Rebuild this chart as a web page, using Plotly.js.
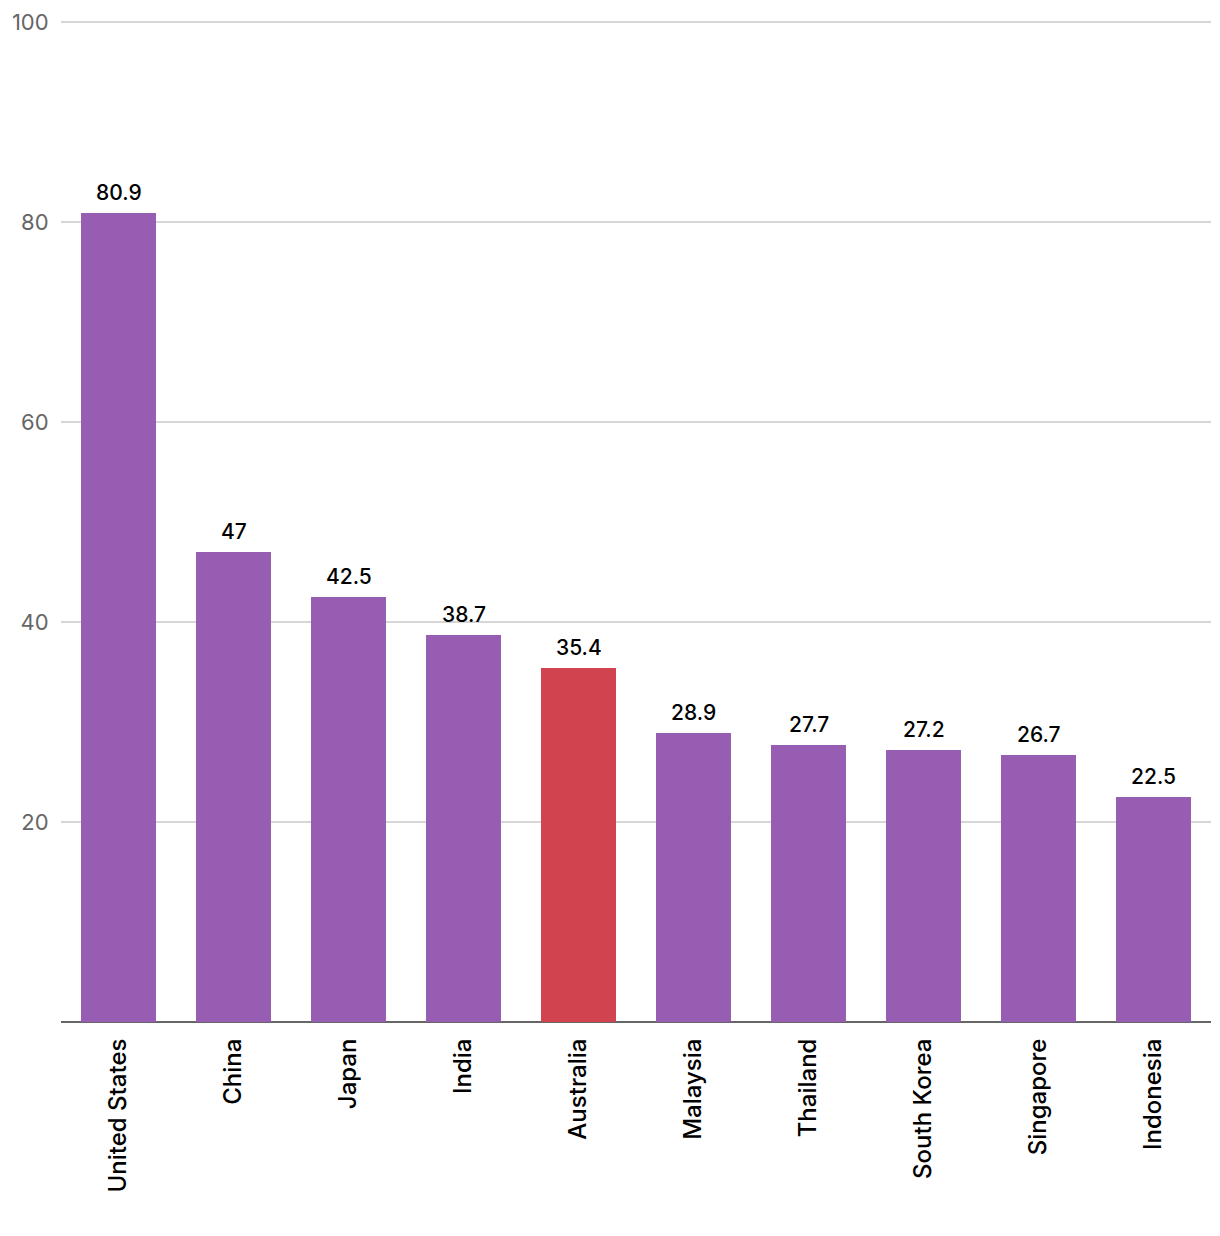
<!DOCTYPE html>
<html>
<head>
<meta charset="utf-8">
<script src="https://cdn.plot.ly/plotly-3.0.1.min.js"></script>
<style>html,body{margin:0;padding:0;background:#fff;}#chart{width:1220px;height:1236px;}</style>
</head>
<body>
<div id="chart"></div>
<script>
const countries = ["United States","China","Japan","India","Australia","Malaysia","Thailand","South Korea","Singapore","Indonesia"];
const values = [80.9,47,42.5,38.7,35.4,28.9,27.7,27.2,26.7,22.5];
const highlight = "Australia";
const tickValues = [20,40,60,80,100];

const colors = countries.map(c => c === highlight ? "#D0434F" : "#975DB2");

const trace = {
  type: "bar",
  x: countries,
  y: values,
  marker: {color: colors},
  hoverinfo: "x+y"
};

const annotations = countries.map((c, i) => ({
  x: c, y: values[i], xref: "x", yref: "y",
  text: String(values[i]),
  showarrow: false, yanchor: "bottom", yshift: 6,
  font: {family: "Inter, sans-serif", size: 21, color: "#000", weight: 500}
}));

const layout = {
  width: 1220, height: 1236,
  margin: {l: 61, r: 9, t: 18, b: 214},
  paper_bgcolor: "#fff", plot_bgcolor: "#fff",
  bargap: 0.348,
  showlegend: false,
  font: {family: "Inter, sans-serif"},
  xaxis: {
    type: "category",
    tickangle: -90,
    tickfont: {family: "Inter, sans-serif", size: 24, color: "#000", weight: 500},
    ticks: "outside", ticklen: 6, tickcolor: "rgba(0,0,0,0)",
    showline: false, showgrid: false, zeroline: false,
    fixedrange: true
  },
  yaxis: {
    range: [0, 100.4],
    tickvals: tickValues,
    ticktext: tickValues.map(String),
    tickfont: {family: "Inter, sans-serif", size: 22, color: "#666"},
    ticks: "outside", ticklen: 7, tickcolor: "rgba(0,0,0,0)",
    showgrid: true, gridcolor: "#d6d6d6", gridwidth: 1.5,
    zeroline: true, zerolinecolor: "#666", zerolinewidth: 2,
    showline: false,
    fixedrange: true
  },
  annotations: annotations
};

Plotly.newPlot("chart", [trace], layout, {displayModeBar: false, staticPlot: true});
</script>
</body>
</html>
